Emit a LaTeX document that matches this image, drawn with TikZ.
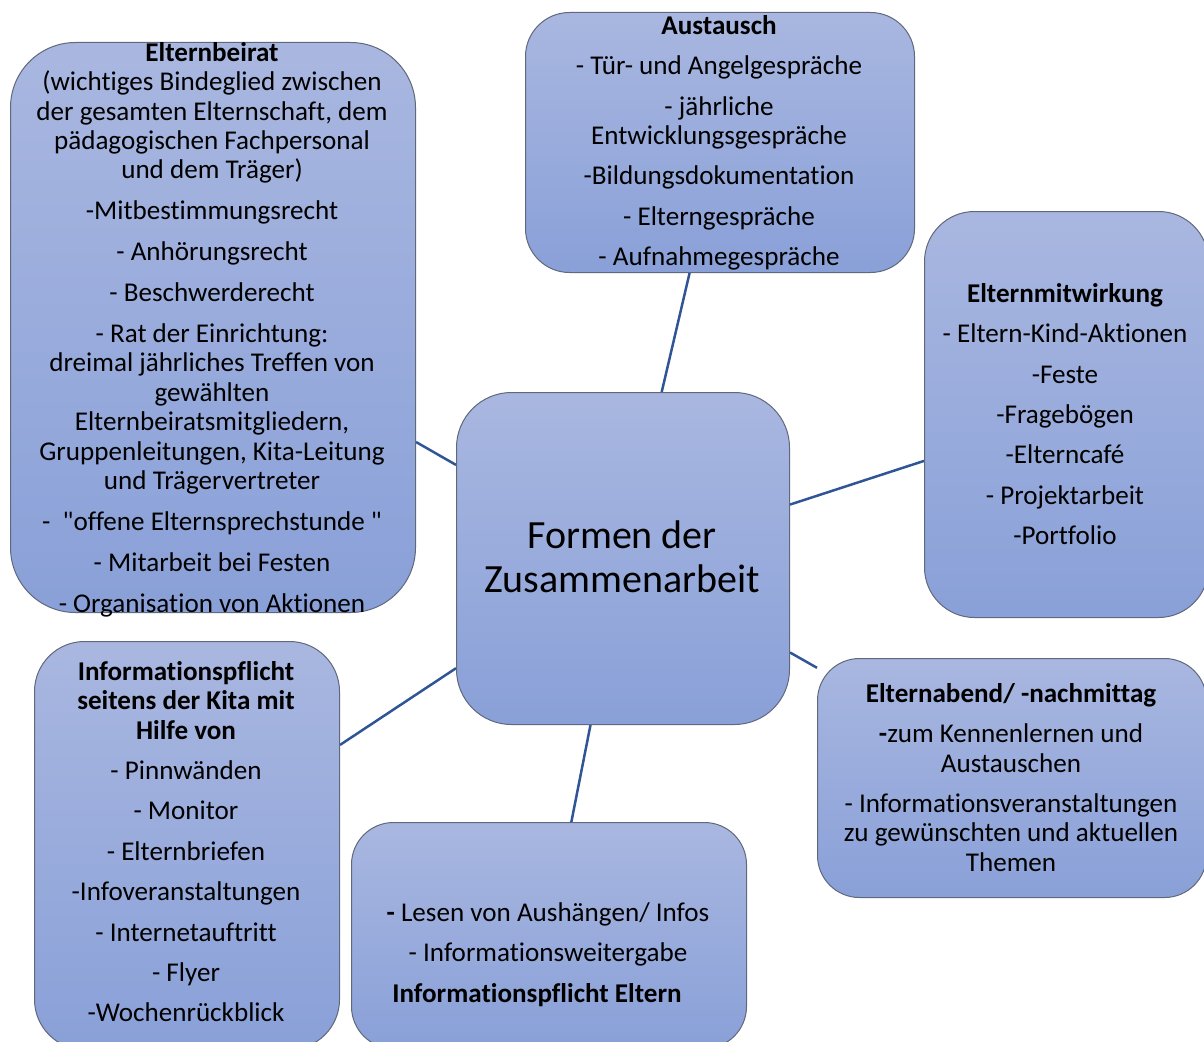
\documentclass[tikz,border=0pt]{standalone}
\usepackage{fontspec}
\setmainfont{Carlito}[Ligatures={TeX,NoCommon}]
\newfontfamily\qfont{Carlito}
\usetikzlibrary{backgrounds}
\definecolor{boxtop}{RGB}{169,183,224}
\definecolor{boxbot}{RGB}{137,160,216}
\definecolor{bordergray}{RGB}{96,104,124}
\definecolor{connblue}{RGB}{47,85,151}
\tikzset{
  box/.style={draw=bordergray, line width=1pt, top color=boxtop, bottom color=boxbot,
              inner sep=0pt, anchor=north west},
  txt/.style={anchor=north, inner sep=0pt, align=center, font=\fontsize{27.1}{29.4}\selectfont},
  bigtxt/.style={anchor=north, inner sep=0pt, align=center, font=\fontsize{40}{44}\selectfont},
  conn/.style={draw=connblue, line width=2.5pt}
}
\begin{document}
\begin{tikzpicture}[x=1pt,y=-1pt]
\useasboundingbox (0,0) rectangle (1204,1041);
\clip (0,0) rectangle (1204,1041);
% boxes
\node[box, minimum width=405, minimum height=570, rounded corners=65pt] (beirat) at (10,42) {};
\node[box, minimum width=389, minimum height=260, rounded corners=44pt] (austausch) at (525,12) {};
\node[box, minimum width=284, minimum height=406, rounded corners=50pt] (mitwirkung) at (924,211) {};
\node[box, minimum width=333, minimum height=332, rounded corners=55pt] (center) at (456,392) {};
\node[box, minimum width=389, minimum height=239, rounded corners=42pt] (abend) at (817,658) {};
\node[box, minimum width=395, minimum height=226, rounded corners=42pt] (elternpflicht) at (351,822) {};
\node[box, minimum width=305, minimum height=408, rounded corners=50pt] (kitapflicht) at (34,641) {};
% connectors
\begin{scope}[on background layer]
\draw[conn] (beirat) -- (center);
\draw[conn] (austausch) -- (center);
\draw[conn] (mitwirkung) -- (center);
\draw[conn] (abend) -- (center);
\draw[conn] (elternpflicht) -- (center);
\draw[conn] (kitapflicht) -- (center);
\end{scope}
% texts
\node[txt] (tbeirat) at (212,36) {\rule{0pt}{25pt}\textbf{Elternbeirat}\\
(wichtiges Bindeglied zwischen\\
der gesamten Elternschaft, dem\\
pädagogischen Fachpersonal\\
und dem Träger)\\[11.5pt]
-Mitbestimmungsrecht\\[11.5pt]
- Anhörungsrecht\\[11.5pt]
- Beschwerderecht\\[11.5pt]
- Rat der Einrichtung:\\
dreimal jährliches Treffen von\\
gewählten\\
Elternbeiratsmitgliedern,\\
Gruppenleitungen, Kita-Leitung\\
und Trägervertreter\\[11.5pt]
-\ \ {\qfont"}offene Elternsprechstunde {\qfont"}\\[11.5pt]
- Mitarbeit bei Festen\\[11.5pt]
- Organisation von Aktionen};
\node[txt] (taustausch) at (719,9) {\rule{0pt}{25pt}\textbf{Austausch}\\[11pt]
- Tür- und Angelgespräche\\[11pt]
- jährliche\\
Entwicklungsgespräche\\[11pt]
-Bildungsdokumentation\\[11pt]
- Elterngespräche\\[11pt]
- Aufnahmegespräche};
\node[txt] (tmitwirkung) at (1065,277) {\rule{0pt}{25pt}\textbf{Elternmitwirkung}\\[11pt]
- Eltern-Kind-Aktionen\\[11pt]
-Feste\\[11pt]
-Fragebögen\\[11pt]
-Elterncafé\\[11pt]
- Projektarbeit\\[11pt]
-Portfolio};
\node[bigtxt] (tcenter) at (622,512) {\rule{0pt}{36pt}Formen der\\Zusammenarbeit};
\node[txt] (tabend) at (1011,677) {\rule{0pt}{25pt}\textbf{Elternabend/ -nachmittag}\\[11pt]
\textbf{-}zum Kennenlernen und\\
Austauschen\\[11pt]
- Informationsveranstaltungen\\
zu gewünschten und aktuellen\\
Themen};
\node[txt] (telternpflicht) at (548,896) {\rule{0pt}{25pt}\textbf{-} Lesen von Aushängen/ Infos\\[11pt]
- Informationsweitergabe\\[11pt]
\textbf{Informationspflicht Eltern}\hspace*{22pt}};
\node[txt] (tkitapflicht) at (186,655) {\rule{0pt}{25pt}\textbf{Informationspflicht}\\
\textbf{seitens der Kita mit}\\
\textbf{Hilfe von}\\[11pt]
- Pinnwänden\\[11pt]
- Monitor\\[11pt]
- Elternbriefen\\[11pt]
-Infoveranstaltungen\\[11pt]
- Internetauftritt\\[11pt]
- Flyer\\[11pt]
-Wochenrückblick};
\end{tikzpicture}
\end{document}
